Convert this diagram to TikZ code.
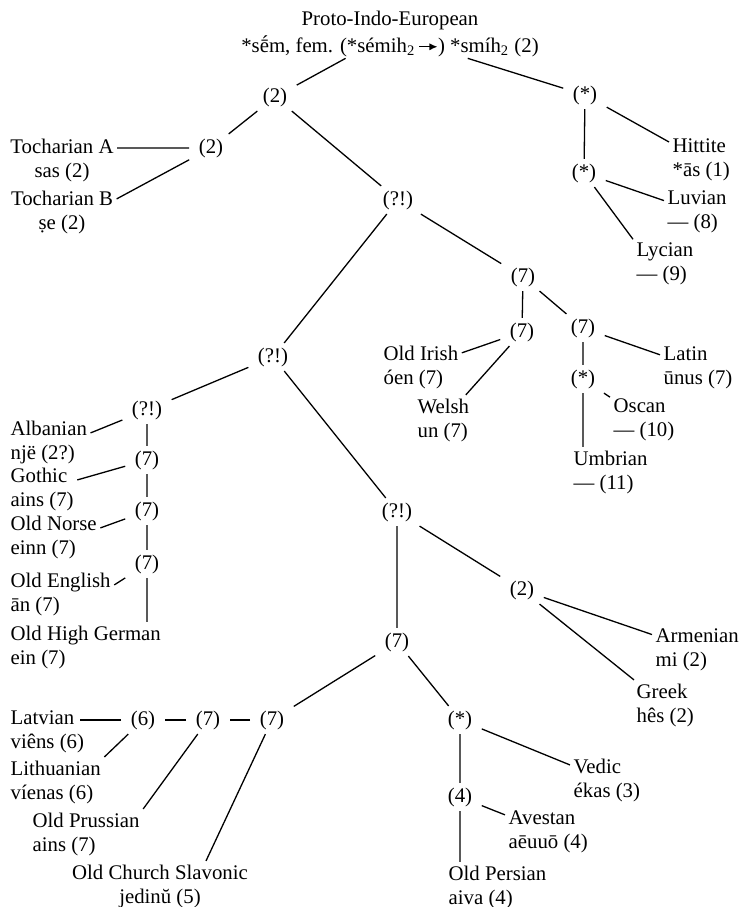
\documentclass[tikz,border=0pt]{standalone}
\usepackage{fontspec}
\setmainfont{Liberation Serif}
\usepackage{tikz}
\usetikzlibrary{arrows.meta}
\tikzset{
	every node/.style={font=\fontsize{10.4pt}{12pt}\selectfont},
	anc/.style={inner xsep=4.5pt, inner ysep=2pt},
	lang/.style={anchor=west, align=left, inner sep=1.5pt},
	langc/.style={align=center, inner sep=1.5pt}
}
\newcommand\shiftarrow{\tikz[baseline=-0.6ex,x=1pt,y=1pt]\draw[line width=0.6pt,-{Latex[length=4pt,width=3.6pt]}] (0,0) -- (9,0);}

\begin{document}
\begin{tikzpicture}[x=0.5pt,y=-0.5pt,line width=0.65pt]
	\useasboundingbox (0,0) rectangle (741,907);
	\node[langc, inner sep=0.5pt] (pie) at (390,34) {Proto-Indo-European\\[1.5pt]*sḗm, fem. (*sémih\textsubscript{2}\,\shiftarrow) *smíh\textsubscript{2} (2)};

	\node[anc] (top2) at (275,97) {(2)};
	\node[anc] (anat) at (585,95) {(*)};
	\node[anc] (toch) at (211,148) {(2)};
	\node[anc] (luw) at (584,173) {(*)};
	\node[anc] (q1) at (398,200) {(?!)};
	\node[anc] (itce) at (523,277) {(7)};
	\node[anc] (celt) at (522,332) {(7)};
	\node[anc] (ital) at (583,328) {(7)};
	\node[anc] (sab) at (583,379) {(*)};
	\node[anc] (q2) at (273,357) {(?!)};
	\node[anc] (q3) at (147,410) {(?!)};
	\node[anc] (germ) at (147,460) {(7)};
	\node[anc] (nwgerm) at (147,511) {(7)};
	\node[anc] (wgerm) at (147,564) {(7)};
	\node[anc] (q4) at (397,512) {(?!)};
	\node[anc] (armgr) at (522,590) {(2)};
	\node[anc] (bsii) at (397,642) {(7)};
	\node[anc] (indir) at (460,720) {(*)};
	\node[anc] (iran) at (460,797) {(4)};
	\node[anc] (ebalt) at (143,720) {(6)};
	\node[anc] (balt) at (208,720) {(7)};
	\node[anc] (bsl) at (272,720) {(7)};

	\node[lang] (hittite) at (669,160) {Hittite\\*ās (1)};
	\node[lang] (luvian) at (664,212) {Luvian\\--- (8)};
	\node[lang] (lycian) at (633,264) {Lycian\\--- (9)};
	\node[langc] (tochA) at (62,160) {Tocharian A\\sas (2)};
	\node[langc] (tochB) at (62,212) {Tocharian B\\ṣe (2)};
	\node[lang] (oldirish) at (380,367) {Old Irish\\óen (7)};
	\node[lang] (welsh) at (414,420) {Welsh\\un (7)};
	\node[lang] (latin) at (660,368) {Latin\\ūnus (7)};
	\node[lang] (oscan) at (610,420) {Oscan\\--- (10)};
	\node[lang] (umbrian) at (570,472) {Umbrian\\--- (11)};
	\node[lang] (albanian) at (7,442) {Albanian\\një (2?)};
	\node[lang] (gothic) at (7,489) {Gothic\\ains (7)};
	\node[lang] (oldnorse) at (7,537) {Old Norse\\einn (7)};
	\node[lang] (oldenglish) at (7,594) {Old English\\ān (7)};
	\node[lang] (ohg) at (7,647) {Old High German\\ein (7)};
	\node[lang] (armenian) at (652,650) {Armenian\\mi (2)};
	\node[lang] (greek) at (633,705) {Greek\\hês (2)};
	\node[lang] (latvian) at (7,732) {Latvian\\viêns (6)};
	\node[lang] (lithuanian) at (7,782) {Lithuanian\\víenas (6)};
	\node[lang] (oldprussian) at (29,834) {Old Prussian\\ains (7)};
	\node[langc] (ocs) at (160,886) {Old Church Slavonic\\jedinŭ (5)};
	\node[lang] (vedic) at (570,780) {Vedic\\ékas (3)};
	\node[lang] (avestan) at (505,832) {Avestan\\aēuuō (4)};
	\node[lang] (oldpersian) at (445,887) {Old Persian\\aiva (4)};

	\draw (pie) -- (top2) (pie) -- (anat);
	\draw (anat) -- (hittite) (anat) -- (luw) (luw) -- (luvian) (luw) -- (lycian.north west);
	\draw (top2) -- (toch) (top2) -- (q1);
	\draw (toch) -- (tochA.east |- toch) (toch) -- ([yshift=-6pt]tochB.north east);
	\draw (q1) -- (itce) (q1) -- (q2);
	\draw (itce) -- (celt) (itce) -- (ital);
	\draw (celt) -- (oldirish) (celt) -- (welsh);
	\draw (ital) -- (latin) (ital) -- (sab) (sab) -- (oscan) (sab) -- (sab |- umbrian.north);
	\draw (q2) -- (q3) (q2) -- (q4);
	\draw (q3) -- ([yshift=-8pt]albanian.north east) (q3) -- (germ);
	\draw (germ) -- ([yshift=-8pt]gothic.north east) (germ) -- (nwgerm);
	\draw (nwgerm) -- ([yshift=-8pt]oldnorse.north east) (nwgerm) -- (wgerm);
	\draw (wgerm) -- ([yshift=-8pt]oldenglish.north east) (wgerm) -- (wgerm |- ohg.north);
	\draw (q4) -- (armgr) (q4) -- (bsii);
	\draw (armgr) -- (armenian) (armgr) -- (greek);
	\draw (bsii) -- (bsl) (bsii) -- (indir);
	\draw (indir) -- (vedic) (indir) -- (iran);
	\draw (iran) -- (avestan) (iran) -- (iran |- oldpersian.north);
	\draw (bsl) -- (balt) (balt) -- (ebalt) (ebalt) -- ([xshift=-4pt]latvian.east |- ebalt);
	\draw (ebalt) -- (lithuanian.north east) (balt) -- (oldprussian.north east);
	\draw (bsl) -- ([xshift=23pt]ocs.north);
\end{tikzpicture}
\end{document}
